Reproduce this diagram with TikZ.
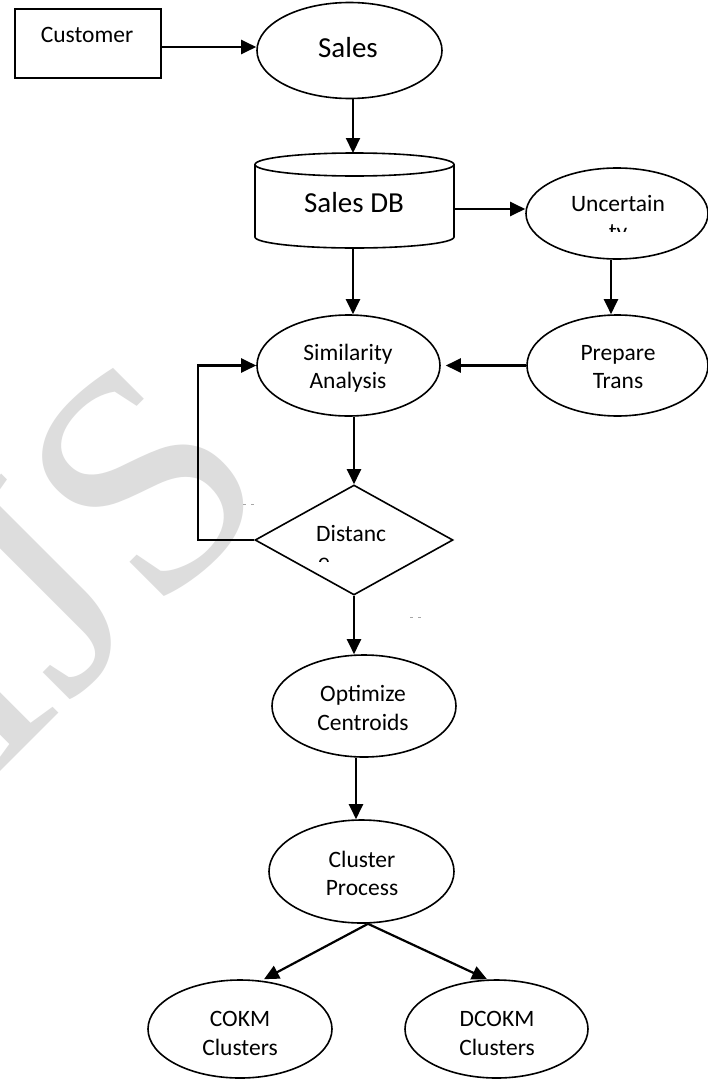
\documentclass[tikz,border=0pt]{standalone}
\usepackage{fontspec}
\setmainfont{Carlito}
\newfontfamily\wmfont{Liberation Serif}
\usetikzlibrary{arrows.meta,shapes.geometric}
\definecolor{wmgray}{RGB}{221,221,221}
\begin{document}
\begin{tikzpicture}[x=1pt,y=-1pt,
  shp/.style={draw, line width=1.6pt},
  ell/.style={shp, ellipse, inner sep=0pt},
  arr/.style={line width=2.2pt, -{Triangle[length=15pt,width=14pt]}},
  sm/.style={font=\fontsize{23.5}{28}\selectfont, inner sep=0pt, anchor=base},
  lg/.style={font=\fontsize{29}{34}\selectfont, inner sep=0pt, anchor=base},
  tick/.style={draw=gray!70, line width=0.7pt}
]
\useasboundingbox (0,0) rectangle (708,1081);
\fill[white] (0,0) rectangle (708,1081);
% watermark
\begin{scope}
\clip (0,0) rectangle (708,1081);
\node[text=wmgray, font=\wmfont\fontsize{320}{340}\selectfont, rotate=45, anchor=base east, inner sep=0pt] (wm) at (281,491.5) {IJS};
\end{scope}

% Customer
\node[shp, rectangle, minimum width=146pt, minimum height=69pt, inner sep=0pt] (cust) at (88,43.5) {};
\node[sm] (custt) at (87,42.7) {Customer};

% Sales
\node[ell, minimum width=185pt, minimum height=96pt] (sales) at (349.5,50.5) {};
\node[lg] (salest) at (348,57) {Sales};

% Sales DB cylinder
\draw[shp] (354.5,164.5) ellipse [x radius=99.5pt, y radius=11.5pt];
\draw[shp] (255,164.5) -- (255,237) arc[start angle=180,end angle=360,x radius=99.5pt,y radius=11pt] -- (454,164.5);
\coordinate (dbT) at (353,153);
\coordinate (dbR) at (454,209);
\coordinate (dbB) at (353,248);
\node[lg] (dbt) at (354,212) {Sales DB};

% Uncertainty
\node[ell, minimum width=182pt, minimum height=91pt] (uncert) at (617,213.5) {};
\node[sm] (unct1) at (618,211) {Uncertain};
\begin{scope}
\clip (520,200) rectangle (700,231.5);
\node[sm] (unct2) at (618,239.5) {ty};
\end{scope}

% Similarity Analysis
\node[ell, minimum width=183pt, minimum height=101pt] (sim) at (348.5,365.5) {};
\node[sm] (simt1) at (348,360) {Similarity};
\node[sm] (simt2) at (348,388) {Analysis};

% Prepare Trans
\node[ell, minimum width=181pt, minimum height=101pt] (prep) at (617.5,365.5) {};
\node[sm] (prept1) at (618,360) {Prepare};
\node[sm] (prept2) at (618,388) {Trans};

% Distance diamond
\node[shp, diamond, inner sep=0pt, minimum width=198pt, minimum height=110pt] (dist) at (354,540) {};
\node[sm, anchor=base west] (distt1) at (316,541) {Distanc};
\begin{scope}
\clip (300,545) rectangle (420,561.5);
\node[sm, anchor=base west] (distt2) at (318,569.5) {e};
\end{scope}
\draw[tick] (243,504) -- (246,504) (251,504) -- (254,504);
\draw[tick] (410,617) -- (413,617) (418,617) -- (421,617);

% Optimize Centroids
\node[ell, minimum width=184pt, minimum height=102pt] (opt) at (364,706) {};
\node[sm] (optt1) at (363,701) {Optimize};
\node[sm] (optt2) at (363,730) {Centroids};

% Cluster Process
\node[ell, minimum width=185pt, minimum height=103pt] (clus) at (361.5,871.5) {};
\node[sm] (clust1) at (362,867) {Cluster};
\node[sm] (clust2) at (362,895) {Process};

% COKM / DCOKM
\node[ell, minimum width=184pt, minimum height=98pt] (cokm) at (240,1029) {};
\node[sm] (cokmt1) at (240,1026) {COKM};
\node[sm] (cokmt2) at (240,1055) {Clusters};
\node[ell, minimum width=183pt, minimum height=98pt] (dcokm) at (496.5,1029) {};
\node[sm] (dcokmt1) at (497,1026) {DCOKM};
\node[sm] (dcokmt2) at (497,1055) {Clusters};

% connectors
\draw[arr] ([yshift=-3.5pt]cust.east) -- ([yshift=-3.5pt]cust.east -| sales.west);
\draw[arr] (sales.south -| dbT) -- (dbT);
\draw[arr] (dbR) -- (dbR -| uncert.west);
\draw[arr] (dbB) -- (dbB |- sim.north);
\draw[arr] ([xshift=-6pt]uncert.south) -- ([xshift=-6pt]uncert.south |- prep.north);
\draw[arr] (prep.west) -- ([xshift=5pt]sim.east);
\draw[arr] (sim.south -| dist.north) -- (dist.north);
\draw[arr] (dist.west) -- ++(-56,0) |- (sim.west);
\draw[arr] (dist.south) -- (dist.south |- opt.north);
\draw[arr] ([xshift=-8pt]opt.south) -- ([xshift=-8pt]opt.south |- clus.north);
\draw[arr] ([xshift=6.5pt]clus.south) -- ([xshift=24pt]cokm.north);
\draw[arr] ([xshift=6.5pt]clus.south) -- ([xshift=-9.5pt]dcokm.north);
\end{tikzpicture}
\end{document}
